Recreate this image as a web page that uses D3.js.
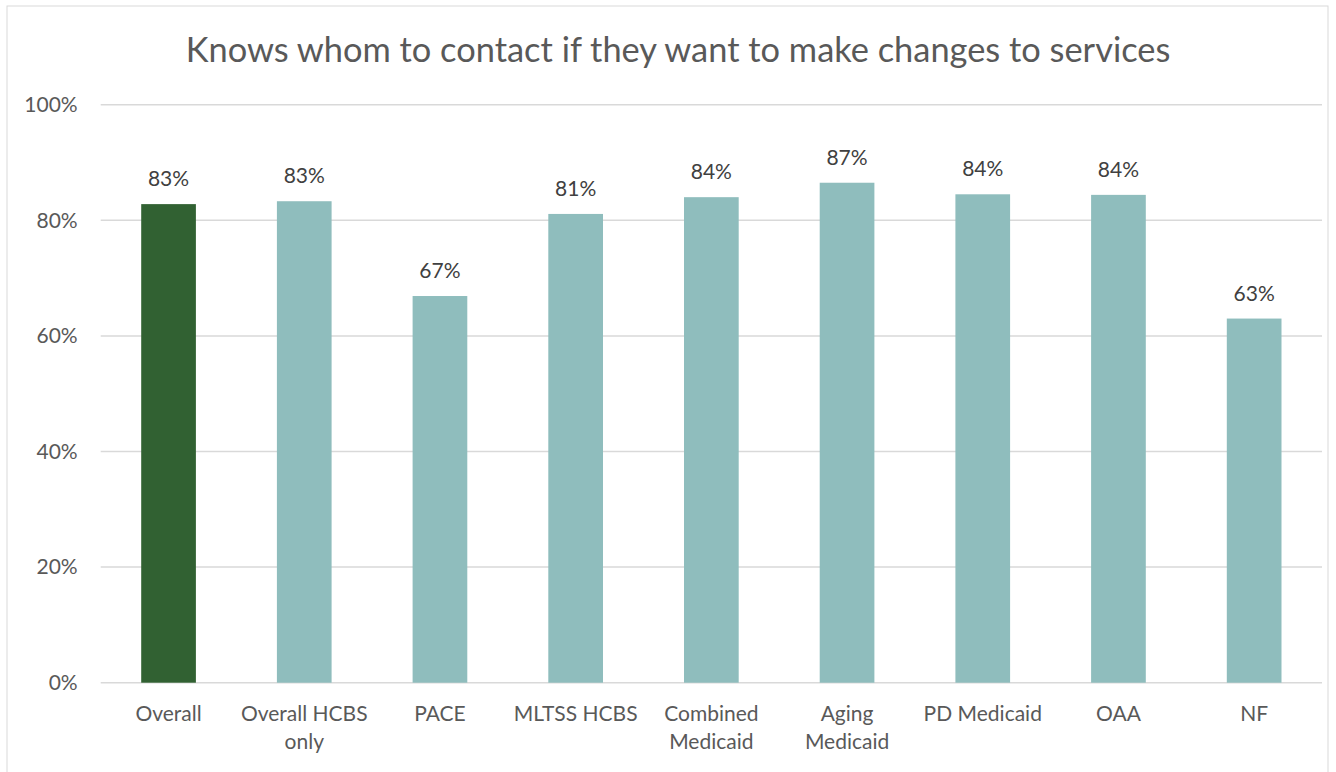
<!DOCTYPE html>
<html>
<head>
<meta charset="utf-8">
<script src="https://cdn.jsdelivr.net/npm/d3@7"></script>
<style>
  body { margin: 0; background: #fff; }
  svg text { font-family: Lato, "Open Sans", sans-serif; }
</style>
</head>
<body>
<svg id="chart" width="1336" height="772"></svg>
<script>
var categories = ['Overall', 'Overall HCBS only', 'PACE', 'MLTSS HCBS', 'Combined Medicaid', 'Aging Medicaid', 'PD Medicaid', 'OAA', 'NF'];
var labelLines = [['Overall'], ['Overall HCBS', 'only'], ['PACE'], ['MLTSS HCBS'], ['Combined', 'Medicaid'], ['Aging', 'Medicaid'], ['PD Medicaid'], ['OAA'], ['NF']];
var values = [82.8, 83.3, 66.9, 81.1, 84.0, 86.5, 84.5, 84.4, 63.0];
var valueLabels = ['83%', '83%', '67%', '81%', '84%', '87%', '84%', '84%', '63%'];
var yTicks = [0, 20, 40, 60, 80, 100];
var title = 'Knows whom to contact if they want to make changes to services';

var margin = {top: 104.7, right: 14, bottom: 89.3, left: 100.7},
    width = 1336 - margin.left - margin.right,
    height = 772 - margin.top - margin.bottom;

var svg = d3.select('#chart');

// outer chart border
svg.append('rect')
   .attr('x', 7).attr('y', 6)
   .attr('width', 1321).attr('height', 780)
   .attr('fill', 'none')
   .attr('stroke', '#d9d9d9')
   .attr('stroke-width', 1);

svg.append('text')
   .attr('x', 678).attr('y', 62)
   .attr('text-anchor', 'middle')
   .attr('fill', '#595959')
   .style('font-size', '34.4px')
   .text(title);

var g = svg.append('g').attr('transform', 'translate(' + margin.left + ',' + margin.top + ')');

var x = d3.scaleBand().domain(categories).range([0, width]).paddingInner(0.597).paddingOuter(0.2985);
var y = d3.scaleLinear().domain([0, 100]).range([height, 0]);

// gridlines
g.selectAll('.grid')
 .data(yTicks)
 .enter()
 .append('line')
 .attr('class', 'grid')
 .attr('x1', 0).attr('x2', width)
 .attr('y1', d => y(d)).attr('y2', d => y(d))
 .attr('stroke', '#d9d9d9')
 .attr('stroke-width', 1.5);

// y axis labels
var yAxis = d3.axisLeft(y).tickValues(yTicks).tickFormat(d => d + '%').tickSize(0).tickPadding(23);
g.append('g').call(yAxis)
 .call(a => a.select('.domain').remove())
 .selectAll('text')
 .attr('fill', '#595959')
 .style('font-size', '21px');

// bars
g.selectAll('.bar')
 .data(values)
 .enter()
 .append('rect')
 .attr('class', 'bar')
 .attr('x', (d, i) => x(categories[i]))
 .attr('y', d => y(d))
 .attr('width', x.bandwidth())
 .attr('height', d => height - y(d))
 .attr('fill', (d, i) => i == 0 ? '#316132' : '#8fbdbd');

// value labels
g.selectAll('.val')
 .data(values)
 .enter()
 .append('text')
 .attr('class', 'val')
 .attr('x', (d, i) => x(categories[i]) + x.bandwidth() / 2)
 .attr('y', d => y(d) - 18)
 .attr('text-anchor', 'middle')
 .attr('fill', '#404040')
 .style('font-size', '21px')
 .text((d, i) => valueLabels[i]);

// category labels
var cat = g.selectAll('.cat')
 .data(categories)
 .enter()
 .append('text')
 .attr('class', 'cat')
 .attr('text-anchor', 'middle')
 .attr('fill', '#595959')
 .style('font-size', '21px')
 .attr('transform', d => 'translate(' + (x(d) + x.bandwidth() / 2) + ',' + (height + 38) + ')');

cat.selectAll('tspan')
 .data((d, i) => labelLines[i])
 .enter()
 .append('tspan')
 .attr('x', 0)
 .attr('dy', (d, i) => i == 0 ? 0 : 28)
 .text(d => d);
</script>
</body>
</html>
